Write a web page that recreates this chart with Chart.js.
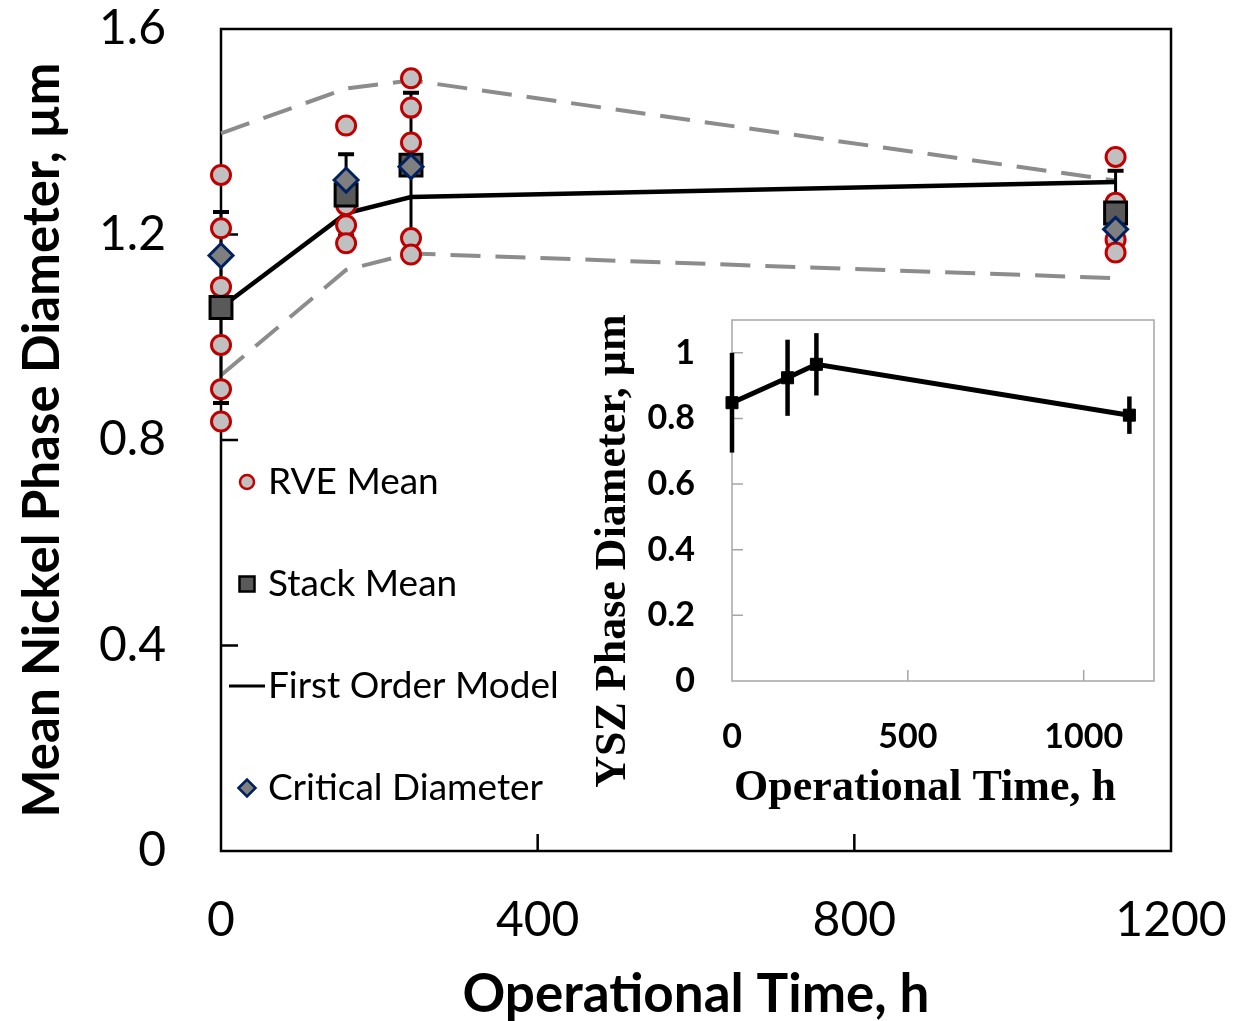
<!DOCTYPE html>
<html>
<head>
<meta charset="utf-8">
<title>Mean Nickel Phase Diameter vs Operational Time</title>
<script src="https://cdn.jsdelivr.net/npm/chart.js@4.4.1/dist/chart.umd.min.js"></script>
<style>
  html, body { margin: 0; padding: 0; background: #fff; overflow: hidden; }
  #wrap { position: relative; width: 1247px; height: 1021px; }
  #mainChart { position: absolute; left: 0; top: 0; }
  #insetChart { position: absolute; left: 590px; top: 300px; }
</style>
</head>
<body>
<div id="wrap">
  <canvas id="mainChart" width="1247" height="1021"></canvas>
  <canvas id="insetChart" width="580" height="520"></canvas>
</div>
<script>
// --- Data ---
const times = [0, 158, 240, 1130];

// RVE means, one list per operational time
const rveAt0 = [1.316, 1.212, 1.098, 0.985, 0.899, 0.836];
const rveAt158 = [1.412, 1.257, 1.218, 1.183];
const rveAt240 = [1.504, 1.447, 1.379, 1.193, 1.161];
const rveAt1130 = [1.351, 1.262, 1.190, 1.165];
const rveGroups = [rveAt0, rveAt158, rveAt240, rveAt1130];

const stackMean = [1.058, 1.277, 1.335, 1.242];
const stackErr = [0.186, 0.079, 0.141, 0.082];
const criticalDiameter = [1.159, 1.306, 1.332, 1.210];
const firstOrderModel = [1.058, 1.241, 1.273, 1.302];
const modelUpper = [1.397, 1.484, 1.500, 1.305];
const modelLower = [0.926, 1.131, 1.163, 1.115];

const mainXTicks = [0, 400, 800, 1200];
const mainYTicks = [0, 0.4, 0.8, 1.2, 1.6];

// inset: YSZ phase
const yszMean = [0.848, 0.924, 0.965, 0.810];
const yszErr = [0.152, 0.116, 0.095, 0.057];
const insetXTicks = [0, 500, 1000];
const insetYTicks = [0, 0.2, 0.4, 0.6, 0.8, 1];

const legendLabels = ['RVE Mean', 'Stack Mean', 'First Order Model', 'Critical Diameter'];

const xy = (vals) => vals.map((v, i) => ({ x: times[i], y: v }));
const rvePoints = [];
rveGroups.forEach((grp, i) => grp.forEach(v => rvePoints.push({ x: times[i], y: v })));

Chart.defaults.font.family = "Lato, 'Open Sans', sans-serif";
Chart.defaults.color = '#000';
Chart.defaults.animation = false;

// fixed tick lists, no label-driven padding
const useTicks = (list) => (s) => { s.ticks = list.map(v => ({ value: v })); };
const fixWidth = (w) => (s) => { s.width = w; s.paddingTop = 0; s.paddingBottom = 0; };
const fixHeight = (h) => (s) => { s.height = h; s.paddingLeft = 0; s.paddingRight = 0; };

// --- plugins ---
const frameTicks = {
    id: 'frameTicks',
    beforeDatasetsDraw(chart, args, opts) {
        const { ctx, chartArea: a, scales: { x, y } } = chart;
        ctx.save();
        ctx.strokeStyle = opts.color;
        ctx.lineWidth = opts.width;
        ctx.strokeRect(a.left, a.top, a.right - a.left, a.bottom - a.top);
        ctx.beginPath();
        opts.xTicks.forEach(v => {
            const px = x.getPixelForValue(v);
            ctx.moveTo(px, a.bottom);
            ctx.lineTo(px, a.bottom - opts.len);
        });
        opts.yTicks.forEach(v => {
            const py = y.getPixelForValue(v);
            ctx.moveTo(a.left, py);
            ctx.lineTo(a.left + opts.len, py);
        });
        ctx.stroke();
        ctx.restore();
    }
};

const errorBars = {
    id: 'errorBars',
    beforeDatasetDraw(chart, args, opts) {
        if (args.index !== opts.before) return;
        const ds = chart.data.datasets[opts.source];
        const { ctx, scales: { x, y } } = chart;
        ctx.save();
        ctx.strokeStyle = '#000';
        ctx.lineCap = 'butt';
        ds.data.forEach((p, i) => {
            const px = x.getPixelForValue(p.x);
            const top = y.getPixelForValue(p.y + ds.errors[i]);
            const bot = y.getPixelForValue(p.y - ds.errors[i]);
            ctx.lineWidth = opts.width;
            ctx.beginPath();
            ctx.moveTo(px, top);
            ctx.lineTo(px, bot);
            ctx.stroke();
            if (opts.cap) {
                ctx.lineWidth = opts.capWidth;
                ctx.beginPath();
                ctx.moveTo(px - opts.cap, top); ctx.lineTo(px + opts.cap, top);
                ctx.moveTo(px - opts.cap, bot); ctx.lineTo(px + opts.cap, bot);
                ctx.stroke();
            }
        });
        ctx.restore();
    }
};

const legendBox = {
    id: 'legendBox',
    afterDatasetsDraw(chart, args, opts) {
        if (!opts.show) return;
        const ctx = chart.ctx;
        ctx.save();
        ctx.font = opts.font;
        ctx.textBaseline = 'middle';
        ctx.textAlign = 'left';
        legendLabels.forEach((label, i) => {
            const ds = chart.data.datasets.find(d => d.label === label);
            const cy = opts.top + i * opts.gap;
            const cx = opts.markerX;
            ctx.fillStyle = ds.backgroundColor;
            ctx.strokeStyle = ds.borderColor;
            ctx.lineWidth = opts.markerBorder;
            ctx.beginPath();
            if (ds.showLine) {
                ctx.lineWidth = 3;
                ctx.moveTo(cx - 18, cy); ctx.lineTo(cx + 18, cy);
                ctx.stroke();
            } else if (ds.pointStyle === 'circle') {
                ctx.arc(cx, cy, 7, 0, Math.PI * 2);
                ctx.fill(); ctx.stroke();
            } else if (ds.pointStyle === 'rect') {
                ctx.rect(cx - 7.5, cy - 7.5, 15, 15);
                ctx.fill(); ctx.stroke();
            } else {
                ctx.moveTo(cx - 8.5, cy); ctx.lineTo(cx, cy - 8.5);
                ctx.lineTo(cx + 8.5, cy); ctx.lineTo(cx, cy + 8.5);
                ctx.closePath();
                ctx.fill(); ctx.stroke();
            }
            ctx.fillStyle = '#000';
            ctx.fillText(label, opts.textX, cy);
        });
        ctx.restore();
    }
};

const insetTitles = {
    id: 'insetTitles',
    afterDraw(chart, args, opts) {
        if (!opts.show) return;
        const ctx = chart.ctx;
        ctx.save();
        ctx.font = opts.font;
        ctx.fillStyle = '#000';
        ctx.textAlign = 'center';
        ctx.textBaseline = 'middle';
        ctx.fillText(opts.xText, opts.xPos[0], opts.xPos[1]);
        ctx.translate(opts.yPos[0], opts.yPos[1]);
        ctx.rotate(-Math.PI / 2);
        ctx.fillText(opts.yText, 0, 0);
        ctx.restore();
    }
};

// --- main chart ---
new Chart(document.getElementById('mainChart'), {
    type: 'scatter',
    data: {
        datasets: [
            {
                label: 'Critical Diameter', data: xy(criticalDiameter), order: 0, clip: false,
                pointStyle: 'rectRot', pointRadius: 12, backgroundColor: '#7f7f7f',
                borderColor: '#002060', borderWidth: 3
            },
            {
                label: 'Stack Mean', data: xy(stackMean), errors: stackErr, order: 1, clip: false,
                pointStyle: 'rect', pointRadius: 15.5, backgroundColor: '#595959',
                borderColor: '#000', borderWidth: 3
            },
            {
                label: 'RVE Mean', data: rvePoints, order: 2, clip: false,
                pointStyle: 'circle', pointRadius: 9.5, backgroundColor: '#c0c0c0',
                borderColor: '#c00000', borderWidth: 3
            },
            {
                label: 'First Order Model', data: xy(firstOrderModel), order: 3, clip: false,
                showLine: true, pointRadius: 0, borderColor: '#000', backgroundColor: '#000',
                borderWidth: 4.5, tension: 0
            },
            {
                label: 'Model upper', data: xy(modelUpper), order: 4, clip: false,
                showLine: true, pointRadius: 0, borderColor: '#8c8c8c', borderWidth: 4,
                borderDash: [30, 15], tension: 0
            },
            {
                label: 'Model lower', data: xy(modelLower), order: 5, clip: false,
                showLine: true, pointRadius: 0, borderColor: '#8c8c8c', borderWidth: 4,
                borderDash: [30, 15], tension: 0
            }
        ]
    },
    options: {
        responsive: false,
        animation: false,
        events: [],
        layout: { padding: { left: 0, top: 29, right: 76, bottom: 0 } },
        plugins: {
            legend: { display: false },
            tooltip: { enabled: false },
            frameTicks: { color: '#000', width: 2.5, len: 17, xTicks: [400, 800], yTicks: [0.4, 0.8, 1.2] },
            errorBars: { source: 1, before: 2, width: 3, cap: 8, capWidth: 4 },
            legendBox: { show: true, font: "37px Lato, 'Open Sans', sans-serif", top: 482, gap: 102, markerX: 247, markerBorder: 2.5, textX: 268 },
            insetTitles: { show: false }
        },
        scales: {
            x: {
                type: 'linear', min: 0, max: 1200,
                grid: { display: false, drawTicks: false },
                border: { display: false },
                ticks: { padding: 41, maxRotation: 0, autoSkip: false, font: { size: 48 }, callback: (v) => String(v) },
                afterBuildTicks: useTicks(mainXTicks),
                title: { display: true, text: 'Operational Time, h', font: { size: 53, weight: 'bold' }, padding: { top: 0, bottom: -6 } },
                afterFit: fixHeight(170)
            },
            y: {
                min: 0, max: 1.6,
                grid: { display: false, drawTicks: false },
                border: { display: false },
                ticks: { padding: 55, autoSkip: false, font: { size: 48 }, callback: (v) => String(v) },
                afterBuildTicks: useTicks(mainYTicks),
                title: { display: true, text: 'Mean Nickel Phase Diameter, µm', font: { size: 51, weight: 'bold' }, padding: { top: 12, bottom: 0 } },
                afterFit: fixWidth(221)
            }
        }
    },
    plugins: [frameTicks, errorBars, legendBox, insetTitles]
});

// --- inset chart (YSZ phase) ---
new Chart(document.getElementById('insetChart'), {
    type: 'scatter',
    data: {
        datasets: [{
            label: 'YSZ Phase Diameter', data: xy(yszMean), errors: yszErr, clip: false,
            showLine: true, tension: 0, borderColor: '#000', backgroundColor: '#000',
            borderWidth: 5, pointStyle: 'rect', pointRadius: 8.5, pointBorderWidth: 1
        }]
    },
    options: {
        responsive: false,
        animation: false,
        events: [],
        layout: { padding: { left: 0, top: 20, right: 16, bottom: 0 } },
        plugins: {
            legend: { display: false },
            tooltip: { enabled: false },
            frameTicks: { color: '#a6a6a6', width: 1.5, len: 11, xTicks: [500, 1000], yTicks: [0.2, 0.4, 0.6, 0.8, 1.0] },
            errorBars: { source: 0, before: 0, width: 4.5, cap: 0 },
            legendBox: { show: false },
            insetTitles: {
                show: true, font: "bold 44px 'Liberation Serif', 'DejaVu Serif', serif",
                xText: 'Operational Time, h', xPos: [335, 489],
                yText: 'YSZ Phase Diameter, µm', yPos: [24, 251]
            }
        },
        scales: {
            x: {
                type: 'linear', min: 0, max: 1200,
                grid: { display: false, drawTicks: false },
                border: { display: false },
                ticks: { padding: 36, maxRotation: 0, autoSkip: false, font: { size: 34, weight: 'bold' }, callback: (v) => String(v) },
                afterBuildTicks: useTicks(insetXTicks),
                afterFit: fixHeight(139)
            },
            y: {
                min: 0, max: 1.1,
                grid: { display: false, drawTicks: false },
                border: { display: false },
                ticks: { padding: 37, autoSkip: false, font: { size: 34, weight: 'bold' }, callback: (v) => String(v) },
                afterBuildTicks: useTicks(insetYTicks),
                afterFit: fixWidth(142)
            }
        }
    },
    plugins: [frameTicks, errorBars, legendBox, insetTitles]
});
</script>
</body>
</html>
